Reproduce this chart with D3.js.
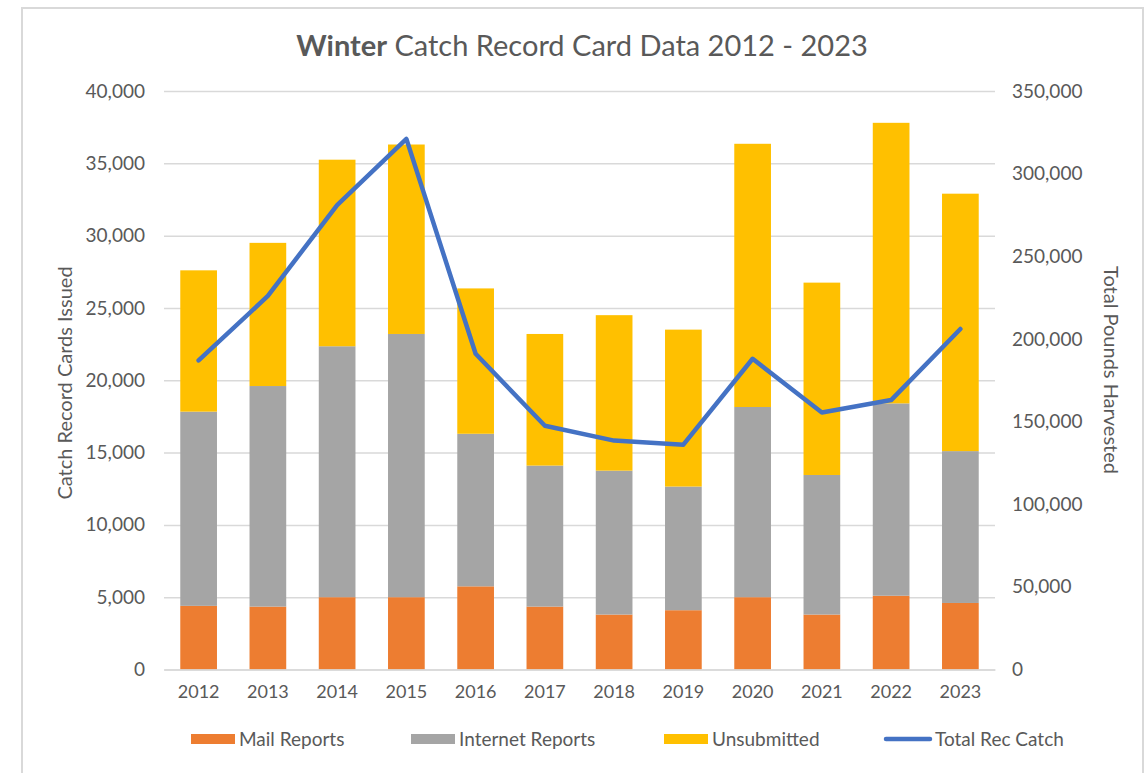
<!DOCTYPE html>
<html>
<head>
<meta charset="utf-8">
<script src="https://cdn.jsdelivr.net/npm/d3@7"></script>
<style>
  body { margin: 0; background: #fff; }
  svg text { font-family: Lato, "Open Sans", sans-serif; fill: #595959; }
</style>
</head>
<body>
<svg id="chart" width="1147" height="773"></svg>
<script>
const years = ["2012","2013","2014","2015","2016","2017","2018","2019","2020","2021","2022","2023"];
const mail = [4400, 4350, 5000, 5000, 5750, 4350, 3800, 4100, 5000, 3800, 5100, 4600];
const internet = [13430, 15250, 17350, 18200, 10550, 9750, 9950, 8550, 13150, 9650, 13300, 10500];
const unsubmitted = [9770, 9900, 12900, 13100, 10050, 9100, 10750, 10850, 18200, 13300, 19400, 17800];
const totalRecCatch = [187000, 226000, 281000, 321000, 191000, 147500, 138500, 136000, 188000, 155500, 163000, 206000];
const leftTicks = d3.range(0, 40001, 5000);
const rightTicks = d3.range(0, 350001, 50000);

const seriesNames = ["Mail Reports", "Internet Reports", "Unsubmitted"];
const colors = { "Mail Reports": "#ED7D31", "Internet Reports": "#A5A5A5", "Unsubmitted": "#FFC000", "Total Rec Catch": "#4472C4" };

const table = years.map((y, i) => ({
  year: y,
  "Mail Reports": mail[i],
  "Internet Reports": internet[i],
  "Unsubmitted": unsubmitted[i]
}));

const svg = d3.select("#chart");
const margin = { left: 164, right: 152, top: 91, bottom: 103.5 };
const W = 1147, H = 773;

// frame
svg.append("path")
  .attr("d", "M22,773 V8 H1143 V773")
  .attr("fill", "none").attr("stroke", "#D9D9D9").attr("stroke-width", 2);

const x = d3.scaleBand().domain(years).range([margin.left, W - margin.right]).paddingInner(0.47).paddingOuter(0.235);
const yL = d3.scaleLinear().domain([0, 40000]).range([H - margin.bottom, margin.top]);
const yR = d3.scaleLinear().domain([0, 350000]).range([H - margin.bottom, margin.top]);

// gridlines
svg.append("g").attr("transform", `translate(${margin.left},0)`)
  .call(d3.axisLeft(yL).tickValues(leftTicks).tickSize(-(W - margin.left - margin.right)).tickFormat(""))
  .call(g => g.select(".domain").remove())
  .call(g => g.selectAll("line").attr("stroke", "#D9D9D9").attr("stroke-width", 1.5));

// left axis labels
svg.append("g").attr("transform", `translate(${margin.left},0)`)
  .call(d3.axisLeft(yL).tickValues(leftTicks).tickSize(0).tickPadding(19).tickFormat(d3.format(",")))
  .call(g => g.select(".domain").remove())
  .call(g => g.selectAll("text").style("font-size", "19px").attr("fill", "#595959"));

// right axis labels
svg.append("g").attr("transform", `translate(${W - margin.right},0)`)
  .call(d3.axisRight(yR).tickValues(rightTicks).tickSize(0).tickPadding(17).tickFormat(d3.format(",")))
  .call(g => g.select(".domain").remove())
  .call(g => g.selectAll("text").style("font-size", "19px").attr("fill", "#595959"));

// stacked bars
const stack = d3.stack().keys(seriesNames)(table);
svg.append("g").selectAll("g").data(stack).join("g")
  .attr("fill", d => colors[d.key])
  .selectAll("rect").data(d => d).join("rect")
  .attr("x", d => x(d.data.year))
  .attr("width", x.bandwidth())
  .attr("y", d => yL(d[1]))
  .attr("height", d => yL(d[0]) - yL(d[1]));

// x axis labels
svg.append("g").attr("transform", `translate(0,${H - margin.bottom})`)
  .call(d3.axisBottom(x).tickSize(0).tickPadding(16))
  .call(g => g.select(".domain").attr("stroke", "#D9D9D9").attr("stroke-width", 1.5))
  .call(g => g.selectAll("text").style("font-size", "18px").attr("fill", "#595959"));

// line
const line = d3.line().x((d, i) => x(years[i]) + x.bandwidth() / 2).y(d => yR(d));
svg.append("path").datum(totalRecCatch)
  .attr("d", line)
  .attr("fill", "none").attr("stroke", colors["Total Rec Catch"]).attr("stroke-width", 4.5)
  .attr("stroke-linejoin", "round").attr("stroke-linecap", "round");

// title
const title = svg.append("text").attr("x", 582).attr("y", 56).attr("text-anchor", "middle").style("font-size", "29px");
title.append("tspan").attr("font-weight", "bold").text("Winter");
title.append("tspan").text(" Catch Record Card Data 2012 - 2023");

// axis titles
svg.append("text").attr("transform", "translate(72,383) rotate(-90)").attr("text-anchor", "middle")
  .style("font-size", "20px").text("Catch Record Cards Issued");
svg.append("text").attr("transform", "translate(1104,370) rotate(90)").attr("text-anchor", "middle")
  .style("font-size", "20px").text("Total Pounds Harvested");

// legend
const legendItems = [
  { name: "Mail Reports", x: 191, type: "rect" },
  { name: "Internet Reports", x: 411, type: "rect" },
  { name: "Unsubmitted", x: 664, type: "rect" },
  { name: "Total Rec Catch", x: 884, type: "line" }
];
const lg = svg.append("g").selectAll("g").data(legendItems).join("g")
  .attr("transform", d => `translate(${d.x},739)`);
lg.filter(d => d.type === "rect").append("rect")
  .attr("x", 0).attr("y", -5).attr("width", 44).attr("height", 10)
  .attr("fill", d => colors[d.name]);
lg.filter(d => d.type === "line").append("line")
  .attr("x1", 2).attr("x2", 46).attr("y1", 0).attr("y2", 0)
  .attr("stroke", d => colors[d.name]).attr("stroke-width", 4.5).attr("stroke-linecap", "round");
lg.append("text").attr("x", d => d.type === "line" ? 51 : 48).attr("y", 7)
  .style("font-size", "19px").text(d => d.name);
</script>
</body>
</html>
